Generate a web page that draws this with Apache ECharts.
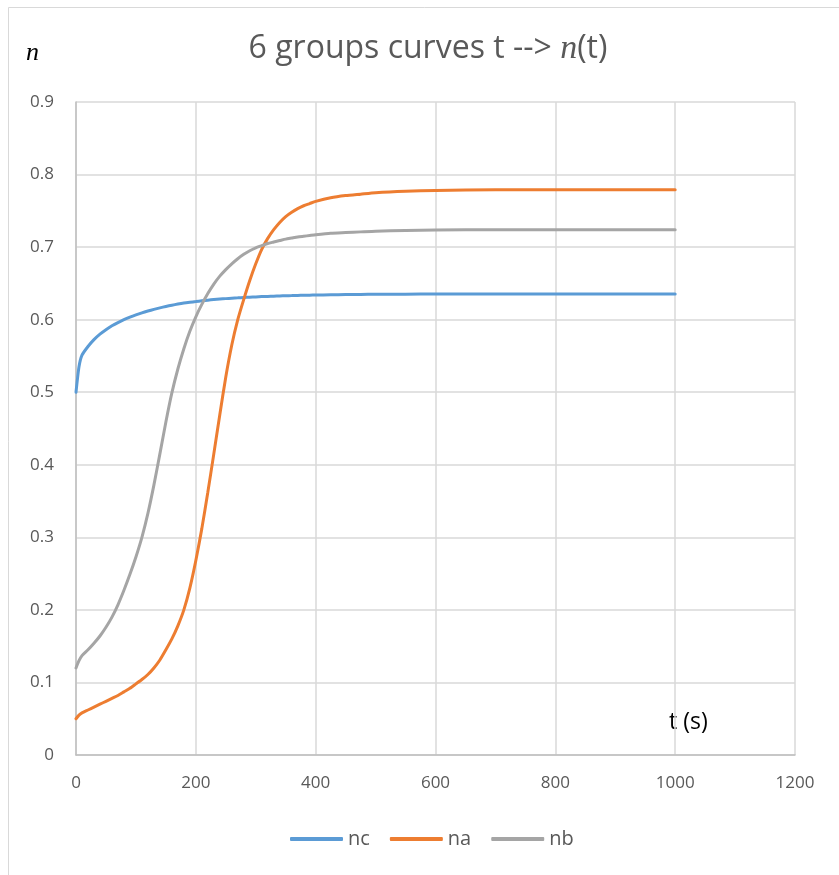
<!DOCTYPE html>
<html>
<head>
<meta charset="utf-8">
<script src="https://cdn.jsdelivr.net/npm/echarts@6/dist/echarts.min.js"></script>
<style>
html,body{margin:0;padding:0;background:#fff;}
#main{width:839px;height:875px;}
</style>
</head>
<body>
<div id="main"></div>
<script>
var tValues  = [0,5,10,20,30,40,50,60,70,80,90,100,110,120,130,140,150,160,170,180,190,200,210,220,230,240,250,260,270,280,290,300,310,320,330,340,350,360,370,380,390,400,425,450,475,500,550,600,700,800,900,1000];
var ncValues = [0.500,0.535,0.551,0.5630,0.5725,0.5800,0.5862,0.5915,0.5960,0.6000,0.6035,0.6066,0.6094,0.6119,0.6142,0.6163,0.6182,0.6199,0.6215,0.6229,0.6240,0.6250,0.6260,0.6269,0.6277,0.6284,0.6290,0.6296,0.6301,0.6306,0.6310,0.6314,0.6318,0.6321,0.6324,0.6327,0.6330,0.6332,0.6334,0.6336,0.6338,0.6340,0.6343,0.6346,0.6348,0.6350,0.6352,0.6353,0.6354,0.6355,0.6355,0.6355];
var naValues = [0.050,0.055,0.058,0.062,0.066,0.070,0.074,0.078,0.082,0.087,0.092,0.098,0.104,0.111,0.120,0.131,0.145,0.160,0.178,0.200,0.230,0.268,0.312,0.362,0.415,0.469,0.521,0.565,0.600,0.628,0.654,0.677,0.697,0.712,0.724,0.734,0.742,0.748,0.753,0.757,0.760,0.763,0.768,0.771,0.773,0.775,0.777,0.778,0.779,0.779,0.779,0.779];
var nbValues = [0.120,0.130,0.137,0.145,0.154,0.164,0.176,0.190,0.207,0.227,0.249,0.273,0.300,0.333,0.372,0.415,0.459,0.499,0.532,0.560,0.584,0.604,0.621,0.636,0.649,0.660,0.669,0.677,0.684,0.690,0.695,0.699,0.702,0.705,0.707,0.709,0.711,0.7125,0.714,0.715,0.716,0.717,0.719,0.720,0.721,0.722,0.723,0.7235,0.724,0.724,0.724,0.724];
var seriesNames = ['nc','na','nb'];
var seriesColors = ['#5b9bd5','#ed7d31','#a5a5a5'];

function pairs(vals){ return tValues.map(function(t,i){ return [t, vals[i]]; }); }
var allVals = [ncValues, naValues, nbValues];

var FONT = "'Open Sans', sans-serif";
var chart = echarts.init(document.getElementById('main'));
chart.setOption({
  animation: false,
  backgroundColor: '#fff',
  legend: {
    bottom: 26,
    left: 290,
    padding: 0,
    itemWidth: 53,
    itemHeight: 4,
    itemGap: 20,
    icon: 'roundRect',
    textStyle: { fontFamily: FONT, fontSize: 20, color: '#595959' },
    data: seriesNames
  },
  grid: { left: 76, right: 44, top: 102, bottom: 120 },
  xAxis: {
    type: 'value', min: 0, max: 1200, interval: 200,
    axisLine: { show: true, lineStyle: { color: '#bfbfbf', width: 1.5 } },
    axisTick: { show: false },
    axisLabel: { fontFamily: FONT, fontSize: 17, color: '#595959', margin: 20,
      formatter: function(v){ return String(v); } },
    splitLine: { show: true, lineStyle: { color: '#d9d9d9', width: 1.5 } }
  },
  yAxis: {
    type: 'value', min: 0, max: 0.9, interval: 0.1,
    axisLine: { show: true, lineStyle: { color: '#bfbfbf', width: 1.5 } },
    axisTick: { show: false },
    axisLabel: { fontFamily: FONT, fontSize: 17, color: '#595959', margin: 22,
      formatter: function(v){ return v === 0 ? '0' : (Math.round(v*10)/10).toFixed(1); } },
    splitLine: { show: true, lineStyle: { color: '#d9d9d9', width: 1.5 } }
  },
  graphic: [
    { type: 'rect', left: 6, top: 5, shape: { width: 900, height: 900 }, style: { fill: 'none', stroke: '#d9d9d9', lineWidth: 1 }, silent: true, z: -10 },
    { type: 'text', x: 428, y: 49, style: {
        text: '{a|6 groups curves t --> }{b|n}{a|(t)}',
        align: 'center', verticalAlign: 'middle',
        rich: {
          a: { fontFamily: FONT, fontSize: 32, fill: '#595959', color: '#595959' },
          b: { fontFamily: "'Liberation Serif', serif", fontStyle: 'italic', fontSize: 34, fill: '#595959', color: '#595959' }
        }
      } },
    { type: 'text', left: 26, top: 40, style: { text: 'n', fontFamily: "'Liberation Serif', serif", fontStyle: 'italic', fontSize: 26, fill: '#000' } },
    { type: 'text', left: 669, top: 711, style: { text: 't (s)', fontFamily: FONT, fontSize: 23, fill: '#000' } }
  ],
  series: seriesNames.map(function(name, i){
    return {
      name: name, type: 'line', smooth: 0.2, showSymbol: false,
      lineStyle: { width: 3, color: seriesColors[i], cap: 'round' },
      itemStyle: { color: seriesColors[i] },
      data: pairs(allVals[i])
    };
  })
});
</script>
</body>
</html>
